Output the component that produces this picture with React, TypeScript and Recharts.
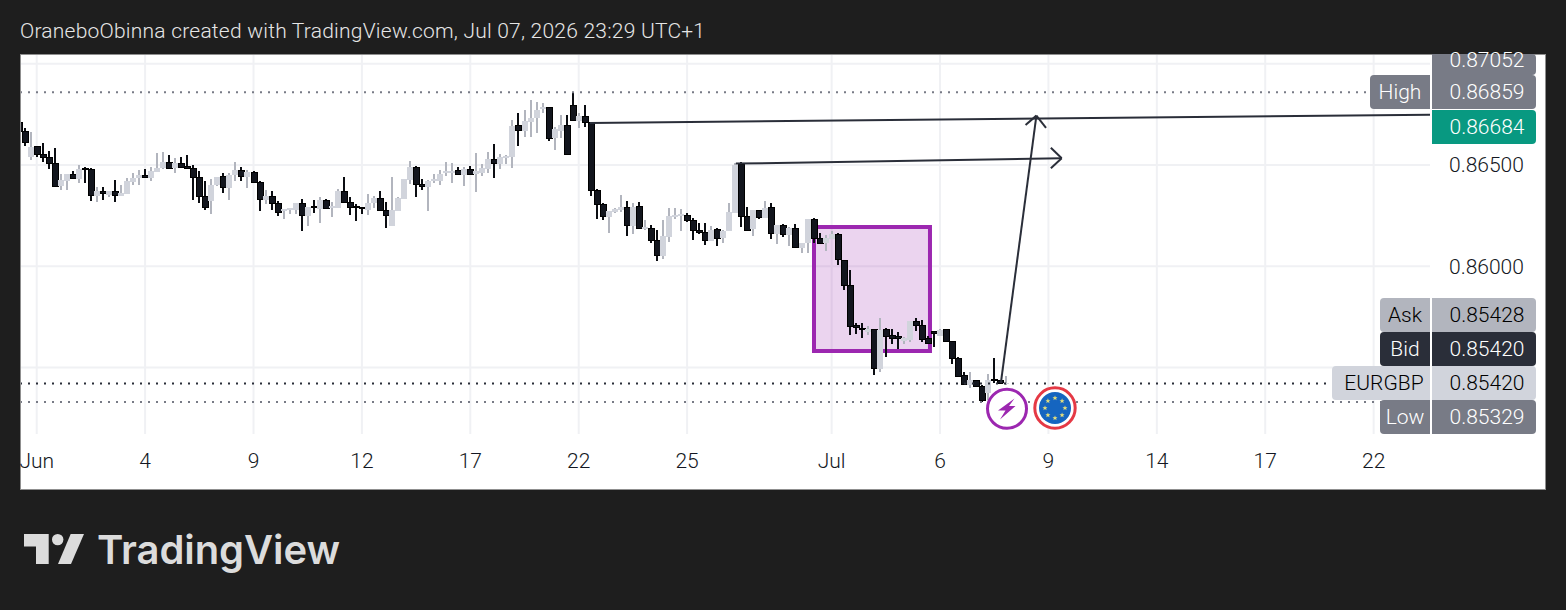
import { Bar, CartesianGrid, ComposedChart, ReferenceArea, ReferenceLine, XAxis, YAxis } from 'recharts'

const FONT = 'Roboto, sans-serif'

// 4h candles, first one is the partial bar cut by the left edge
const opens = [
  0.86711,
  0.86665, 0.86541, 0.86589, 0.86553, 0.86538, 0.86508, 0.86396, 0.86423, 0.86454, 0.86431,
  0.86485, 0.86479, 0.86348, 0.8637, 0.86352, 0.8637, 0.86348, 0.86358, 0.86418, 0.86434,
  0.86449, 0.86436, 0.86467, 0.86484, 0.86513, 0.86484, 0.86508, 0.86495, 0.86482, 0.86439,
  0.86343, 0.86324, 0.864, 0.86442, 0.86386, 0.86451, 0.86474, 0.86442, 0.86464, 0.86414,
  0.86329, 0.86345, 0.86311, 0.86274, 0.86278, 0.86278, 0.86311, 0.86248, 0.86297, 0.86281,
  0.86325, 0.86288, 0.86288, 0.8637, 0.86316, 0.86294, 0.86291, 0.86279, 0.86311, 0.86335,
  0.86276, 0.86199, 0.86274, 0.86334, 0.86426, 0.8649, 0.86404, 0.86393, 0.86419, 0.86423,
  0.86459, 0.86459, 0.86475, 0.86452, 0.8648, 0.86457, 0.86462, 0.86482, 0.86528, 0.86505,
  0.86536, 0.8654, 0.86693, 0.8667, 0.86714, 0.86731, 0.86775, 0.86782, 0.86633, 0.8667,
  0.86696, 0.86795, 0.86717, 0.8674, 0.86709, 0.86375, 0.86306, 0.86241, 0.86268, 0.86278,
  0.86291, 0.86199, 0.86296, 0.86185, 0.86185, 0.86128, 0.8605, 0.86146, 0.86245, 0.86248,
  0.86251, 0.86228, 0.86177, 0.86166, 0.86126, 0.86179, 0.86139, 0.86176, 0.86264, 0.86502,
  0.86246, 0.86185, 0.86276, 0.86238, 0.86288, 0.86159, 0.86202, 0.86154, 0.86187, 0.8609,
  0.86113, 0.86232, 0.86138, 0.86113, 0.86136, 0.86159, 0.86027, 0.85905, 0.85709, 0.85693,
  0.85676, 0.85685, 0.85494, 0.85685, 0.85658, 0.85652, 0.85632, 0.85635, 0.85725, 0.85709,
  0.85645, 0.85675, 0.85655, 0.85685, 0.85629, 0.85545, 0.85461, 0.85413, 0.85434, 0.85408,
  0.85372, 0.8544, 0.85433, 0.85418,
]
const highs = [
  0.86711,
  0.86681, 0.86665, 0.86594, 0.86607, 0.86569, 0.86582, 0.86456, 0.86456, 0.8647, 0.865,
  0.86488, 0.86484, 0.8639, 0.8639, 0.86371, 0.86426, 0.86401, 0.86434, 0.86459, 0.86475,
  0.86479, 0.86488, 0.86558, 0.86564, 0.86548, 0.86533, 0.86538, 0.86548, 0.86498, 0.86469,
  0.86419, 0.86429, 0.86442, 0.86462, 0.86462, 0.86515, 0.86488, 0.86475, 0.86469, 0.86419,
  0.86376, 0.8637, 0.8632, 0.86284, 0.86288, 0.86314, 0.8633, 0.86294, 0.86327, 0.86343,
  0.8633, 0.86317, 0.86381, 0.86439, 0.8634, 0.86307, 0.86292, 0.86357, 0.86347, 0.8637,
  0.86317, 0.86439, 0.86343, 0.86429, 0.8652, 0.86495, 0.86431, 0.86426, 0.86456, 0.86475,
  0.86515, 0.86508, 0.86488, 0.86488, 0.86495, 0.86558, 0.86505, 0.86563, 0.86604, 0.86554,
  0.86548, 0.86722, 0.86755, 0.86772, 0.86821, 0.86813, 0.86808, 0.86785, 0.86689, 0.86745,
  0.86745, 0.86859, 0.86755, 0.86796, 0.86712, 0.8638, 0.86314, 0.86274, 0.86288, 0.8635,
  0.8632, 0.86314, 0.86316, 0.86228, 0.86202, 0.86179, 0.86228, 0.86288, 0.86288, 0.86281,
  0.86261, 0.86238, 0.86212, 0.86212, 0.86199, 0.86187, 0.86179, 0.86311, 0.86508, 0.86515,
  0.86291, 0.86278, 0.86278, 0.86324, 0.86311, 0.86202, 0.86207, 0.86192, 0.86207, 0.86113,
  0.86235, 0.86236, 0.86166, 0.86154, 0.86176, 0.86162, 0.86031, 0.85981, 0.85721, 0.85718,
  0.85705, 0.85688, 0.85744, 0.85693, 0.85688, 0.85676, 0.85652, 0.85728, 0.85744, 0.85734,
  0.85655, 0.85681, 0.85688, 0.85688, 0.85632, 0.85553, 0.85479, 0.85477, 0.85438, 0.85411,
  0.85467, 0.85545, 0.85435, 0.85458,
]
const lows = [
  0.86665,
  0.86596, 0.86525, 0.86541, 0.86516, 0.86482, 0.8639, 0.86376, 0.86376, 0.86431, 0.86413,
  0.86413, 0.86324, 0.86317, 0.86327, 0.86343, 0.86317, 0.86347, 0.86357, 0.86401, 0.86401,
  0.86436, 0.86421, 0.86465, 0.86482, 0.86482, 0.86462, 0.86488, 0.86482, 0.86327, 0.86311,
  0.86278, 0.8626, 0.86396, 0.8636, 0.86327, 0.86421, 0.86421, 0.86386, 0.86413, 0.86274,
  0.86307, 0.86278, 0.8625, 0.86233, 0.86258, 0.86258, 0.86176, 0.86199, 0.86263, 0.86213,
  0.86281, 0.86243, 0.86286, 0.86312, 0.86253, 0.86223, 0.86258, 0.86253, 0.86286, 0.86273,
  0.8619, 0.86199, 0.86273, 0.86332, 0.86406, 0.86343, 0.86376, 0.86274, 0.86409, 0.86401,
  0.86446, 0.86413, 0.86451, 0.86396, 0.86452, 0.86368, 0.86446, 0.86462, 0.86436, 0.86479,
  0.86505, 0.86485, 0.86594, 0.8664, 0.8664, 0.8666, 0.86755, 0.8662, 0.86576, 0.86632,
  0.86551, 0.86717, 0.86683, 0.86689, 0.86347, 0.86235, 0.86228, 0.86166, 0.86261, 0.86269,
  0.86149, 0.86159, 0.86184, 0.86179, 0.86113, 0.86027, 0.86037, 0.8612, 0.86235, 0.86176,
  0.86218, 0.86129, 0.86159, 0.86106, 0.86125, 0.86101, 0.86113, 0.86174, 0.86261, 0.86195,
  0.86174, 0.86149, 0.86235, 0.86236, 0.86136, 0.8611, 0.86146, 0.861, 0.86092, 0.86067,
  0.86067, 0.86113, 0.86111, 0.86077, 0.86133, 0.86004, 0.85882, 0.85662, 0.85665, 0.85645,
  0.85662, 0.85464, 0.85477, 0.85553, 0.85616, 0.85591, 0.85616, 0.85625, 0.85681, 0.85627,
  0.85617, 0.85599, 0.85653, 0.85625, 0.85517, 0.85454, 0.85416, 0.85397, 0.85405, 0.85329,
  0.85339, 0.85425, 0.85416, 0.85413,
]
const closes = [
  0.86665,
  0.86612, 0.86591, 0.86553, 0.86536, 0.86508, 0.86396, 0.86426, 0.86456, 0.86432, 0.8648,
  0.86479, 0.86348, 0.86371, 0.86357, 0.86371, 0.86348, 0.8636, 0.86419, 0.86437, 0.86451,
  0.86437, 0.8647, 0.86487, 0.86515, 0.86484, 0.86508, 0.8649, 0.86484, 0.86439, 0.86343,
  0.86289, 0.864, 0.86442, 0.86388, 0.86452, 0.86475, 0.86442, 0.86465, 0.86414, 0.86329,
  0.86347, 0.86309, 0.86264, 0.86284, 0.86286, 0.86312, 0.8625, 0.86292, 0.86289, 0.86327,
  0.86283, 0.86297, 0.86371, 0.86314, 0.86289, 0.86288, 0.86284, 0.86312, 0.86337, 0.86274,
  0.8625, 0.86278, 0.86337, 0.86429, 0.86488, 0.86403, 0.86396, 0.86423, 0.86432, 0.86456,
  0.86469, 0.86472, 0.86452, 0.86479, 0.86454, 0.86469, 0.86485, 0.86528, 0.86508, 0.86538,
  0.86544, 0.86693, 0.8667, 0.86716, 0.86731, 0.86772, 0.86785, 0.86633, 0.86676, 0.86698,
  0.86553, 0.86719, 0.86742, 0.86709, 0.86373, 0.86304, 0.86245, 0.86271, 0.86284, 0.86292,
  0.86202, 0.86294, 0.86185, 0.86195, 0.86126, 0.86052, 0.86149, 0.86248, 0.86251, 0.86256,
  0.86228, 0.86176, 0.86166, 0.86126, 0.86179, 0.86139, 0.86176, 0.86266, 0.86502, 0.86245,
  0.86176, 0.86278, 0.8624, 0.86288, 0.86162, 0.86202, 0.86156, 0.86187, 0.86093, 0.86113,
  0.86232, 0.86138, 0.86113, 0.86138, 0.86159, 0.86031, 0.85905, 0.85701, 0.85698, 0.85685,
  0.85688, 0.85494, 0.85685, 0.85655, 0.85642, 0.85642, 0.85644, 0.85728, 0.85705, 0.85639,
  0.85619, 0.85668, 0.85685, 0.85629, 0.85543, 0.85457, 0.85418, 0.85438, 0.85408, 0.85336,
  0.85438, 0.85433, 0.8542, 0.85424,
]

const timeTicks = [2, 20, 38, 56, 74, 92, 110, 134, 152, 170, 188, 206, 224]
const timeLabels = ['Jun', '4', '9', '12', '17', '22', '25', 'Jul', '6', '9', '14', '17', '22']
const priceTicks = [0.86, 0.865]
const gridPrices = [0.855, 0.86, 0.865, 0.87]
const barDomain = [-0.61, 233.36]
const priceDomain = [0.85171, 0.870435]

const highPrice = 0.86859
const bidPrice = 0.8542
const lowPrice = 0.85329

// drawings, in [bar, price]
const trendA = [[93.87, 0.86708], [233.36, 0.86748]]
const trendB = [[118.1, 0.86507], [172.2, 0.86533]]
const arrowB = [[170.4, 0.86585], [172.2, 0.86533], [170.4, 0.86484]]
const trendC = [[162.1, 0.85423], [168, 0.86744]]
const arrowC = [[166.2, 0.86698], [168, 0.86744], [169.6, 0.86683]]
const boxBars = [131.07, 150.33]
const boxPrices = [0.85581, 0.86194]

const badgeLabels = ['', 'High', '', 'Ask', 'Bid', 'EURGBP', 'Low']
const badgeValues = ['0.87052', '0.86859', '0.86684', '0.85428', '0.85420', '0.85420', '0.85329']
const badgeStyles = [
  { top: 54, h: 21, fill: '#787b86', text: '#fff', labelW: 0 },
  { top: 75, h: 34, fill: '#787b86', text: '#fff', labelW: 60 },
  { top: 110, h: 34, fill: '#089981', text: '#fff', labelW: 0 },
  { top: 298, h: 34, fill: '#b2b5be', text: '#000', labelW: 50 },
  { top: 332, h: 34, fill: '#2a2e39', text: '#fff', labelW: 50 },
  { top: 366, h: 34, fill: '#d1d4dc', text: '#000', labelW: 98 },
  { top: 400, h: 34, fill: '#787b86', text: '#fff', labelW: 50 },
]
const starAngles = [-90, -45, 0, 45, 90, 135, 180, 225]

const candles = opens.map((open, i) => ({
  bar: i - 1,
  open,
  close: closes[i],
  range: [lows[i], highs[i]],
}))

function Candle(props: any) {
  const { x, y, width, height, payload } = props
  const [low, high] = payload.range
  const cx = Math.round(x + width / 2)
  const perPrice = Math.abs(height) / (high - low)
  const top = y + (high - Math.max(payload.open, payload.close)) * perPrice
  const bodyH = Math.max(Math.abs(payload.open - payload.close) * perPrice, 1)
  const down = payload.close < payload.open
  return (
    <g shapeRendering="crispEdges">
      <rect x={cx - 1} y={y} width={2} height={Math.abs(height)} fill={down ? '#0b0d12' : '#b2b5be'} />
      {down ? (
        <rect x={cx - 3} y={top} width={6} height={bodyH} fill="#12151d" stroke="#000" strokeWidth={1} />
      ) : (
        <rect x={cx - 3} y={top} width={6} height={bodyH} fill="#d1d4dc" />
      )}
    </g>
  )
}

function segment(points: number[][]) {
  return points.map(([x, y]) => ({ x, y }))
}

function Badge({ i }: { i: number }) {
  const s = badgeStyles[i]
  const mid = i === 0 ? 60 : s.top + s.h / 2
  return (
    <g>
      <path
        d={`M1432 ${s.top}H1532q4 0 4 4V${s.top + s.h - 4}q0 4 -4 4H1432Z`}
        fill={s.fill}
      />
      <text x={1487} y={mid + 7} textAnchor="middle" fontSize={21} fontWeight={300} fontFamily={FONT} fill={s.text}>
        {badgeValues[i]}
      </text>
      {s.labelW > 0 && (
        <g>
          <path
            d={`M1430 ${s.top}H${1434 - s.labelW}q-4 0 -4 4V${s.top + s.h - 4}q0 4 4 4H1430Z`}
            fill={s.fill}
          />
          <text
            x={1430 - s.labelW / 2 + (i === 5 ? 3 : 0)}
            y={mid + 7}
            textAnchor="middle"
            fontSize={21}
            fontWeight={300}
            fontFamily={FONT}
            fill={s.text}
          >
            {badgeLabels[i]}
          </text>
        </g>
      )}
    </g>
  )
}

function Overlay() {
  return (
    <svg width={1566} height={610} style={{ position: 'absolute', left: 0, top: 0, pointerEvents: 'none' }}>
      <text x={20} y={38} fontSize={21} fontWeight={300} fontFamily={FONT} fill="#e6e6e6" textLength={685}>
        OraneboObinna created with TradingView.com, Jul 07, 2026 23:29 UTC+1
      </text>

      {badgeStyles.map((_, i) => (
        <Badge key={i} i={i} />
      ))}

      <circle cx={1007} cy={408.8} r={19.5} fill="#fff" stroke="#9c27b0" strokeWidth={3} />
      <path d="M1014.5 398.5L998 410.5H1005.5L1000 419.5L1015.5 406H1009Z" fill="#9c27b0" />
      <circle cx={1055} cy={408} r={20.2} fill="#fff" stroke="#e53945" strokeWidth={3} />
      <circle cx={1055} cy={408} r={16} fill="#1565c0" />
      {starAngles.map(a => (
        <polygon
          key={a}
          transform={`translate(${1055 + 10 * Math.cos((a * Math.PI) / 180)} ${408 + 10 * Math.sin((a * Math.PI) / 180)})`}
          points="0,-2.6 0.7,-0.8 2.5,-0.8 1.1,0.4 1.6,2.2 0,1.1 -1.6,2.2 -1.1,0.4 -2.5,-0.8 -0.7,-0.8"
          fill="#e8e07a"
        />
      ))}

      <g fill="#dcdcdc">
        <path d="M24 534H48.7V564H36V546.5H24Z" />
        <circle cx={57.7} cy={539.6} r={5.7} />
        <path d="M70.7 534H84L71 564H58Z" />
      </g>
      <text x={97} y={564} fontSize={40} fontWeight={600} fontFamily="Inter, sans-serif" fill="#dcdcdc" textLength={243}>
        TradingView
      </text>
    </svg>
  )
}

export default function App() {
  return (
    <div style={{ position: 'fixed', left: 0, top: 0, width: 1566, height: 610, background: '#1e1e1e', overflow: 'hidden' }}>
      <div
        style={{
          position: 'absolute',
          left: 20,
          top: 54,
          width: 1526,
          height: 436,
          boxSizing: 'border-box',
          background: '#fff',
          border: '1px solid #8f8f8f',
        }}
      />
      <div style={{ position: 'absolute', left: 0, top: 0 }}>
        <ComposedChart width={1566} height={610} data={candles} margin={{ top: 55, right: 20, bottom: 121, left: 21 }}>
          <CartesianGrid
            stroke="#f0f1f4"
            strokeWidth={2}
            horizontalCoordinatesGenerator={({ offset }: any) =>
              gridPrices.map(
                p => offset.top + ((priceDomain[1] - p) / (priceDomain[1] - priceDomain[0])) * offset.height,
              )
            }
            verticalCoordinatesGenerator={({ offset }: any) =>
              timeTicks.map(t => offset.left + ((t - barDomain[0]) / (barDomain[1] - barDomain[0])) * offset.width)
            }
          />
          <XAxis
            dataKey="bar"
            type="number"
            domain={barDomain}
            allowDataOverflow
            ticks={timeTicks}
            interval={0}
            height={55}
            axisLine={false}
            tickLine={false}
            tickMargin={13}
            tickFormatter={(v: number) => timeLabels[timeTicks.indexOf(v)]}
            tick={{ fill: '#131722', fontSize: 21, fontWeight: 300, fontFamily: FONT }}
          />
          <YAxis
            orientation="right"
            type="number"
            domain={priceDomain}
            allowDataOverflow
            ticks={priceTicks}
            interval={0}
            width={116}
            axisLine={false}
            tickLine={false}
            tickMargin={13}
            tickFormatter={(v: number) => v.toFixed(5)}
            tick={{ fill: '#131722', fontSize: 21, fontWeight: 300, fontFamily: FONT }}
          />
          <ReferenceLine y={highPrice} stroke="#787b86" strokeWidth={2} strokeDasharray="2 6" />
          <ReferenceLine y={bidPrice} stroke="#2a2e39" strokeWidth={2} strokeDasharray="2 6" />
          <ReferenceLine y={lowPrice} stroke="#787b86" strokeWidth={2} strokeDasharray="2 6" />
          <Bar dataKey="range" barSize={6} shape={<Candle />} isAnimationActive={false} />
          <ReferenceArea
            x1={boxBars[0]}
            x2={boxBars[1]}
            y1={boxPrices[0]}
            y2={boxPrices[1]}
            fill="#9c27b0"
            fillOpacity={0.2}
            stroke="#9c27b0"
            strokeWidth={4}
            strokeOpacity={1}
            ifOverflow="visible"
          />
          {[trendA, trendB, trendC].map((points, i) => (
            <ReferenceLine key={i} segment={segment(points)} stroke="#2a2e39" strokeWidth={2} ifOverflow="visible" />
          ))}
          {[arrowB, arrowC].flatMap((points, i) => [
            <ReferenceLine
              key={`a${i}`}
              segment={segment(points.slice(0, 2))}
              stroke="#2a2e39"
              strokeWidth={2}
              ifOverflow="visible"
            />,
            <ReferenceLine
              key={`b${i}`}
              segment={segment(points.slice(1))}
              stroke="#2a2e39"
              strokeWidth={2}
              ifOverflow="visible"
            />,
          ])}
        </ComposedChart>
      </div>
      <Overlay />
    </div>
  )
}
